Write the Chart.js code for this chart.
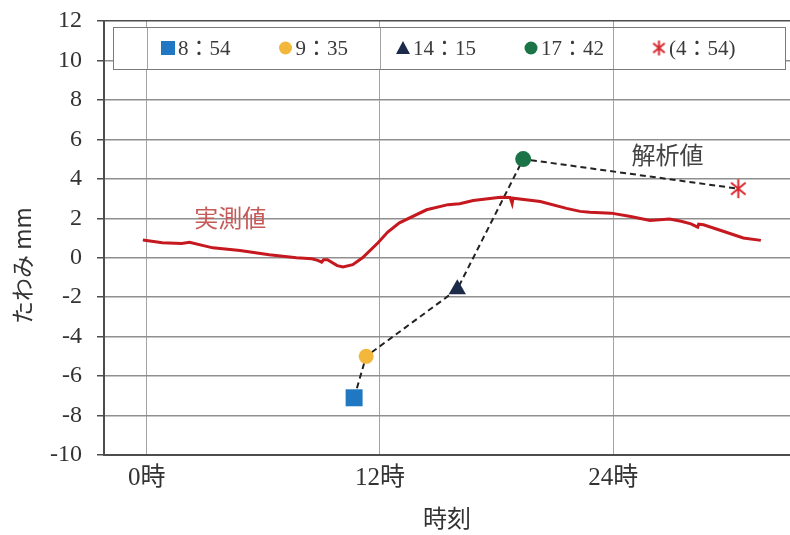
<!DOCTYPE html>
<html>
<head>
<meta charset="utf-8">
<script src="https://cdn.jsdelivr.net/npm/chart.js@4/dist/chart.umd.min.js"></script>
<style>
  body { margin: 0; background: #fff; }
  canvas { display: block; }
</style>
</head>
<body>
<canvas id="deflectionChart" width="790" height="535"></canvas>
<script>
// measured deflection (実測値), hours on the chart axis vs mm
const measuredHours = [-0.2, 0.8, 1.8, 2.2, 3.4, 4.8, 6.3, 7.7, 8.5, 8.8, 9.0, 9.1, 9.3, 9.8, 10.1, 10.6, 11.1,
    11.9, 12.4, 13.0, 14.4, 15.5, 16.1, 16.8, 18.2, 18.7, 18.8, 18.85, 20.25, 21.6, 22.3, 22.8, 23.9,
    24.9, 25.9, 26.9, 27.5, 28.0, 28.35, 28.4, 28.65, 29.7, 30.7, 31.6];
const measuredDefl = [0.9, 0.76, 0.72, 0.78, 0.5, 0.37, 0.15, 0.0, -0.05, -0.13, -0.22, -0.1, -0.1, -0.4, -0.47, -0.35, 0.0,
    0.76, 1.3, 1.77, 2.43, 2.69, 2.74, 2.9, 3.07, 3.05, 2.75, 3.02, 2.85, 2.5, 2.35, 2.3, 2.26,
    2.09, 1.89, 1.96, 1.85, 1.72, 1.55, 1.7, 1.67, 1.33, 1.0, 0.88];

// analysed deflection (解析値) at the five load cases
const analysisLabels = ['8：54', '9：35', '14：15', '17：42', '(4：54)'];
const analysisHours = [10.67, 11.29, 15.98, 19.37, 30.44];
const analysisDefl = [-7.1, -5.0, -1.6, 5.0, 3.5];

const xTickHours = [0, 12, 24];
const xTickLabels = ['0時', '12時', '24時'];
const yTickValues = [-10, -8, -6, -4, -2, 0, 2, 4, 6, 8, 10, 12];

const markerStyles = ['rect', 'circle', 'triangle', 'circle', 'star6'];
const markerColors = ['#1f78c1', '#f3b73c', '#1c2b4a', '#1b7448', '#d8282e'];

const serif = '"Liberation Serif", "Noto Sans CJK JP", serif';
const cjk = '"Noto Sans CJK JP", sans-serif';

function makeStar(size, color) {
    const c = document.createElement('canvas');
    c.width = size;
    c.height = size;
    const g = c.getContext('2d');
    const r = size / 2 - 1;
    g.strokeStyle = color;
    g.lineWidth = 2;
    g.beginPath();
    g.moveTo(size / 2, 1);
    g.lineTo(size / 2, size - 1);
    [40, -40].forEach(a => {
        const dx = Math.cos(a * Math.PI / 180) * r;
        const dy = Math.sin(a * Math.PI / 180) * r;
        g.moveTo(size / 2 - dx, size / 2 - dy);
        g.lineTo(size / 2 + dx, size / 2 + dy);
    });
    g.stroke();
    return c;
}

const starImage = makeStar(21, markerColors[4]);
const starSmall = makeStar(17, markerColors[4]);

function drawIcon(ctx, style, color, cx, cy) {
    ctx.save();
    ctx.fillStyle = color;
    ctx.beginPath();
    if (style === 'rect') {
        ctx.rect(cx - 7, cy - 7, 14, 14);
    } else if (style === 'circle') {
        ctx.arc(cx, cy, 6.5, 0, Math.PI * 2);
    } else if (style === 'triangle') {
        ctx.moveTo(cx, cy - 7);
        ctx.lineTo(cx + 7, cy + 6);
        ctx.lineTo(cx - 7, cy + 6);
        ctx.closePath();
    } else {
        ctx.drawImage(starSmall, cx - 8.5, cy - 8.5);
    }
    ctx.fill();
    ctx.restore();
}

// boxed legend sitting inside the top of the plot
const boxedLegend = {
    id: 'boxedLegend',
    afterDraw(chart) {
        const { ctx, chartArea, scales } = chart;
        const left = chartArea.left + 9, right = chartArea.right - 5;
        const top = chartArea.top + 6, bottom = chartArea.top + 48;
        ctx.save();
        ctx.fillStyle = '#fff';
        ctx.fillRect(left, top, right - left, bottom - top);
        ctx.strokeStyle = '#a3a3a3';
        ctx.lineWidth = 1;
        xTickHours.forEach(h => {
            const px = Math.round(scales.x.getPixelForValue(h)) + 0.5;
            ctx.beginPath();
            ctx.moveTo(px, top);
            ctx.lineTo(px, bottom);
            ctx.stroke();
        });
        ctx.strokeStyle = '#7a7a7a';
        ctx.strokeRect(left + 0.5, top + 0.5, right - left, bottom - top);

        ctx.font = '21px ' + serif;
        ctx.textBaseline = 'middle';
        const cy = (top + bottom) / 2;
        let x = left + 48;
        analysisLabels.forEach((label, i) => {
            drawIcon(ctx, markerStyles[i], markerColors[i], x + 7, cy);
            ctx.fillStyle = '#3a3a3a';
            ctx.fillText(label, x + 17, cy + 1);
            x += 17 + ctx.measureText(label).width + 48;
        });
        ctx.restore();
    }
};

// series names next to the curves, plus the vertical axis title
const chartTexts = {
    id: 'chartTexts',
    afterDatasetsDraw(chart) {
        const { ctx, scales: { x, y } } = chart;
        ctx.save();
        ctx.font = '24px ' + cjk;
        ctx.textAlign = 'center';
        ctx.textBaseline = 'middle';
        ctx.fillStyle = '#c65a58';
        ctx.fillText('実測値', x.getPixelForValue(4.3), y.getPixelForValue(2.0));
        ctx.fillStyle = '#444';
        ctx.fillText('解析値', x.getPixelForValue(26.8), y.getPixelForValue(5.2));

        ctx.translate(22, y.getPixelForValue(-0.4));
        ctx.rotate(-Math.PI / 2);
        ctx.font = '23px ' + cjk;
        ctx.fillStyle = '#333';
        ctx.fillText('たわみ mm', 0, 0);
        ctx.restore();
    }
};

const tickFont = { family: serif, size: 24 };

new Chart(document.getElementById('deflectionChart'), {
    type: 'line',
    data: {
        datasets: [{
            label: '実測値',
            data: measuredHours.map((h, i) => ({ x: h, y: measuredDefl[i] })),
            borderColor: '#c5181f',
            borderWidth: 3,
            pointRadius: 0,
            tension: 0
        }, {
            label: '解析値',
            data: analysisHours.map((h, i) => ({ x: h, y: analysisDefl[i] })),
            borderColor: '#222',
            borderWidth: 2,
            borderDash: [6, 4],
            pointStyle: markerStyles.map(s => s === 'star6' ? starImage : s),
            pointRadius: [12, 7.5, 10, 8, 10],
            pointBackgroundColor: markerColors,
            pointBorderColor: markerColors,
            pointBorderWidth: 0,
            tension: 0
        }]
    },
    options: {
        responsive: false,
        animation: false,
        layout: { autoPadding: false, padding: { top: 21, left: 0, right: 0, bottom: 0 } },
        plugins: {
            legend: { display: false },
            tooltip: { enabled: false }
        },
        scales: {
            x: {
                type: 'linear',
                min: -2.2,
                max: 33.1,
                afterBuildTicks: scale => { scale.ticks = xTickHours.map(v => ({ value: v })); },
                afterFit: scale => {
                    scale.height = 80;
                    scale.paddingLeft = 0;
                    scale.paddingRight = 0;
                },
                ticks: {
                    callback: value => xTickLabels[xTickHours.indexOf(value)],
                    font: { family: serif, size: 25 },
                    color: '#333',
                    padding: 8,
                    maxRotation: 0,
                    autoSkip: false
                },
                grid: { color: '#a3a3a3', lineWidth: 1, drawTicks: false },
                border: { color: '#4d4d4d', width: 2 },
                title: {
                    display: true,
                    text: '時刻',
                    font: { family: cjk, size: 24 },
                    color: '#333',
                    padding: { top: 0, bottom: 3 }
                }
            },
            y: {
                min: -10,
                max: 12,
                afterBuildTicks: scale => { scale.ticks = yTickValues.map(v => ({ value: v })); },
                afterFit: scale => {
                    scale.width = 104;
                    scale.paddingTop = 0;
                    scale.paddingBottom = 0;
                },
                ticks: { font: tickFont, color: '#333', padding: 15 },
                grid: {
                    color: c => (c.tick && c.tick.value === 12 ? '#4d4d4d' : '#8f8f8f'),
                    lineWidth: 1.5,
                    tickLength: 7,
                    tickColor: '#4d4d4d'
                },
                border: { color: '#4d4d4d', width: 2 }
            }
        }
    },
    plugins: [chartTexts, boxedLegend]
});
</script>
</body>
</html>
